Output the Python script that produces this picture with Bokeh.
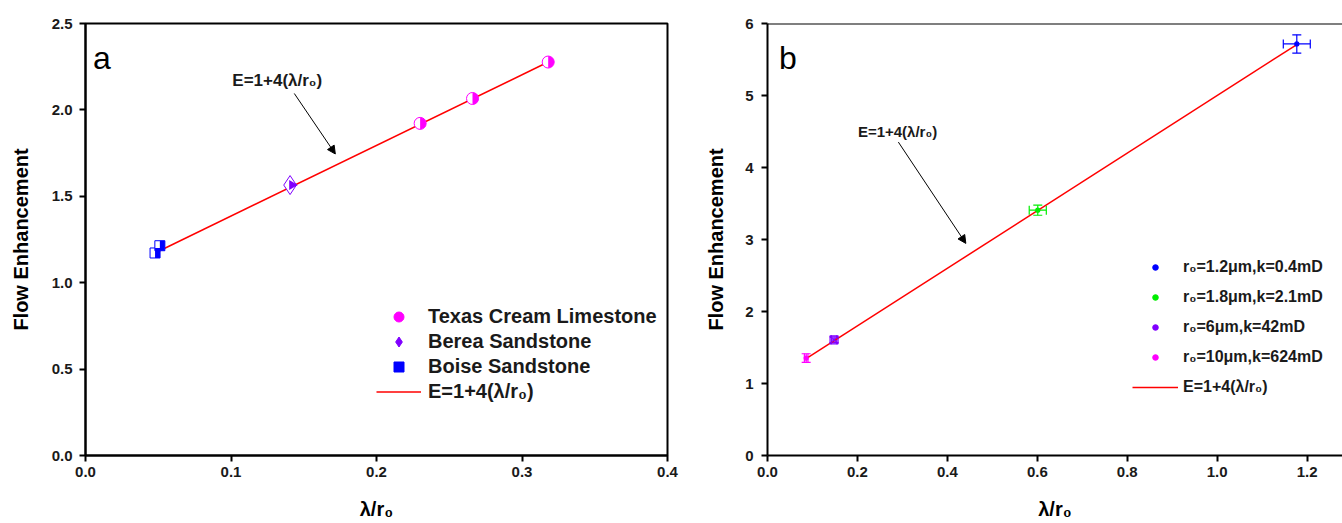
import math
from bokeh.plotting import figure
from bokeh.layouts import row
from bokeh.models import (Range1d, FixedTicker, PrintfTickFormatter, Legend, LegendItem,
                          Label, Arrow, NormalHead, Whisker, TeeHead, ColumnDataSource, Span)
from bokeh.embed import file_html
from bokeh.resources import INLINE

FONT = "Liberation Sans"

# ---------------- data: panel a ----------------
texas_x = [0.230, 0.266, 0.318]
texas_y = [1.922, 2.066, 2.277]
berea_x = [0.1406]
berea_y = [1.565]
boise_x = [0.0478, 0.0511]
boise_y = [1.172, 1.214]
fit_a_x = [0.0478, 0.318]
fit_a_y = [1.172, 2.277]
a_xticks = [0.0, 0.1, 0.2, 0.3, 0.4]
a_yticks = [0.0, 0.5, 1.0, 1.5, 2.0, 2.5]

# ---------------- data: panel b ----------------
b_labels = ["r₀=1.2μm,k=0.4mD", "r₀=1.8μm,k=2.1mD", "r₀=6μm,k=42mD", "r₀=10μm,k=624mD"]
b_colors = ["#0000ff", "#00ee00", "#8000ff", "#ff00ff"]
b_x = [1.177, 0.601, 0.148, 0.086]
b_y = [5.716, 3.407, 1.607, 1.353]
b_xerr = [0.030, 0.019, 0.006, 0.004]
b_yerr = [0.127, 0.070, 0.040, 0.060]
fit_b_x = [0.086, 1.177]
fit_b_y = [1.344, 5.708]
b_xticks = [0.0, 0.2, 0.4, 0.6, 0.8, 1.0, 1.2]
b_yticks = [0, 1, 2, 3, 4, 5, 6]

FIT_LABEL = "E=1+4(λ/r₀)"


def style(p, xt, yt, xfmt, yfmt):
    p.xgrid.visible = False
    p.ygrid.visible = False
    p.xaxis.ticker = FixedTicker(ticks=xt)
    p.yaxis.ticker = FixedTicker(ticks=yt)
    p.xaxis.formatter = PrintfTickFormatter(format=xfmt)
    p.yaxis.formatter = PrintfTickFormatter(format=yfmt)
    for ax in [p.xaxis[0], p.yaxis[0]]:
        ax.axis_line_width = 2
        ax.axis_line_color = "black"
        ax.major_tick_line_width = 2
        ax.major_tick_line_color = "black"
        ax.major_tick_out = 6
        ax.major_tick_in = 0
        ax.minor_tick_line_color = None
        ax.major_label_text_font = FONT
        ax.major_label_text_font_style = "bold"
        ax.major_label_text_font_size = "15px"
        ax.major_label_text_color = "#1a1a1a"
        ax.axis_label_text_font = FONT
        ax.axis_label_text_font_style = "bold"
        ax.axis_label_text_font_size = "20px"
        ax.axis_label_text_color = "black"
    p.background_fill_color = "white"
    p.border_fill_color = "white"


# ================= panel a =================
pa = figure(width=700, height=523, output_backend="svg", toolbar_location=None,
            x_range=Range1d(0, 0.4), y_range=Range1d(0, 2.5),
            min_border_left=85, min_border_right=33, min_border_top=23, min_border_bottom=68,
            x_axis_label="λ/r₀", y_axis_label="Flow Enhancement")
style(pa, a_xticks, a_yticks, "%.1f", "%.1f")
pa.outline_line_color = "black"
pa.outline_line_width = 2
pa.yaxis.axis_label_standoff = 17
pa.yaxis.major_label_standoff = 7
pa.xaxis.axis_label_standoff = 18

fit_a = pa.line(fit_a_x, fit_a_y, line_color="#ff0000", line_width=1.5)

MAG = "#ff00ff"
PUR = "#8000ff"
BLU = "#0000ff"
PX = 0.4 / 582  # data units per screen pixel along x in panel a
# Boise (half-filled squares)
boise_o = pa.scatter(boise_x, boise_y, marker="square", size=10, fill_color="white", line_color=BLU, line_width=1)
pa.rect([v + 2.5 * PX for v in boise_x], boise_y, width=5, height=10, width_units="screen", height_units="screen",
        fill_color=BLU, line_color=None)
# Berea (half-filled diamond)
berea_o = pa.scatter(berea_x, berea_y, marker="diamond", size=19, fill_color="white", line_color=PUR, line_width=1)
pa.scatter([v + 2.0 * PX for v in berea_x], berea_y, marker="triangle", size=10, angle=-math.pi / 2,
           fill_color=PUR, line_color=None)
# Texas (half-filled circles)
texas_o = pa.scatter(texas_x, texas_y, marker="circle", size=12, fill_color="white", line_color=MAG, line_width=1)
pa.wedge(texas_x, texas_y, radius=6, radius_units="screen", start_angle=-math.pi / 2, end_angle=math.pi / 2,
         fill_color=MAG, line_color=None)

# invisible renderers used only for legend glyphs
leg_t = pa.scatter(texas_x, texas_y, marker="circle", size=12, fill_color=MAG, line_color=MAG, visible=False)
leg_d = pa.scatter(berea_x, berea_y, marker="diamond", size=14, fill_color=PUR, line_color=PUR, visible=False)
leg_s = pa.scatter(boise_x, boise_y, marker="square", size=10, fill_color=BLU, line_color=BLU, visible=False)

leg_a = Legend(items=[LegendItem(label="Texas Cream Limestone", renderers=[leg_t]),
                      LegendItem(label="Berea Sandstone", renderers=[leg_d]),
                      LegendItem(label="Boise Sandstone", renderers=[leg_s]),
                      LegendItem(label=FIT_LABEL, renderers=[fit_a])],
               location=(291, 51), padding=0, margin=0, spacing=0,
               glyph_width=45, glyph_height=25, label_height=25, label_standoff=7,
               label_text_font=FONT, label_text_font_style="bold", label_text_font_size="20px",
               label_text_color="#1a1a1a",
               border_line_color=None, background_fill_alpha=0)
pa.add_layout(leg_a)

pa.add_layout(Label(x=0.0052, y=2.302, text="a", text_font=FONT, text_font_size="32px",
                    text_baseline="alphabetic", text_color="black"))
pa.add_layout(Label(x=0.1009, y=2.17, text=FIT_LABEL, text_font=FONT, text_font_size="17px",
                    text_font_style="bold", text_baseline="alphabetic", text_color="#1a1a1a"))
pa.add_layout(Arrow(x_start=0.1435, y_start=2.095, x_end=0.1717, y_end=1.745, line_width=1, line_color="black",
                    end=NormalHead(size=8, fill_color="black", line_color="black")))

# ================= panel b =================
pb = figure(width=642, height=523, output_backend="svg", toolbar_location=None,
            x_range=Range1d(0, 575 / 449.7), y_range=Range1d(0, 6),
            min_border_left=67, min_border_right=0, min_border_top=23, min_border_bottom=67,
            x_axis_label="λ/r₀", y_axis_label="Flow Enhancement")
style(pb, b_xticks, b_yticks, "%.1f", "%d")
pb.outline_line_color = None
pb.yaxis.axis_label_standoff = 15
pb.yaxis.major_label_standoff = 8
pb.xaxis.axis_label_standoff = 18
pb.add_layout(Span(location=6, dimension="width", line_color="black", line_width=2))

fit_b = pb.line(fit_b_x, fit_b_y, line_color="#ff0000", line_width=1.5)

src = ColumnDataSource(dict(
    x=b_x, y=b_y, c=b_colors,
    xl=[x - e for x, e in zip(b_x, b_xerr)], xu=[x + e for x, e in zip(b_x, b_xerr)],
    yl=[y - e for y, e in zip(b_y, b_yerr)], yu=[y + e for y, e in zip(b_y, b_yerr)],
))
pb.add_layout(Whisker(source=src, base="y", lower="xl", upper="xu", dimension="width",
                      line_color={"field": "c"}, line_width=1.2,
                      lower_head=TeeHead(size=9, line_color={"field": "c"}, line_width=1.2),
                      upper_head=TeeHead(size=9, line_color={"field": "c"}, line_width=1.2)))
pb.add_layout(Whisker(source=src, base="x", lower="yl", upper="yu", dimension="height",
                      line_color={"field": "c"}, line_width=1.2,
                      lower_head=TeeHead(size=9, line_color={"field": "c"}, line_width=1.2),
                      upper_head=TeeHead(size=9, line_color={"field": "c"}, line_width=1.2)))

leg_items_b = []
for i in range(4):
    mk = "square_x" if i == 2 else "circle"
    sz = 8 if i == 2 else 4
    pb.scatter([b_x[i]], [b_y[i]], marker=mk, size=sz, fill_color=None if i == 2 else b_colors[i],
               line_color=b_colors[i], line_width=1.2)
    lr = pb.scatter([b_x[i]], [b_y[i]], marker="circle", size=5, fill_color=b_colors[i],
                    line_color=b_colors[i], visible=False)
    leg_items_b.append(LegendItem(label=b_labels[i], renderers=[lr]))
leg_items_b.append(LegendItem(label=FIT_LABEL, renderers=[fit_b]))

leg_b = Legend(items=leg_items_b, location=(365, 58), padding=0, margin=0, spacing=10,
               glyph_width=46, glyph_height=14, label_height=20, label_standoff=5,
               label_text_font=FONT, label_text_font_style="bold", label_text_font_size="16px",
               label_text_color="#1a1a1a",
               border_line_color=None, background_fill_alpha=0)
pb.add_layout(leg_b)

pb.add_layout(Label(x=0.0253, y=5.526, text="b", text_font=FONT, text_font_size="32px",
                    text_baseline="alphabetic", text_color="black"))
pb.add_layout(Label(x=0.201, y=4.50, text=FIT_LABEL, text_font=FONT, text_font_size="15px",
                    text_font_style="bold", text_baseline="alphabetic", text_color="#1a1a1a"))
pb.add_layout(Arrow(x_start=0.291, y_start=4.353, x_end=0.441, y_end=2.946, line_width=1, line_color="black",
                    end=NormalHead(size=8, fill_color="black", line_color="black")))

layout = row(pa, pb, spacing=0)
open("out.html", "w").write(file_html(layout, INLINE))
